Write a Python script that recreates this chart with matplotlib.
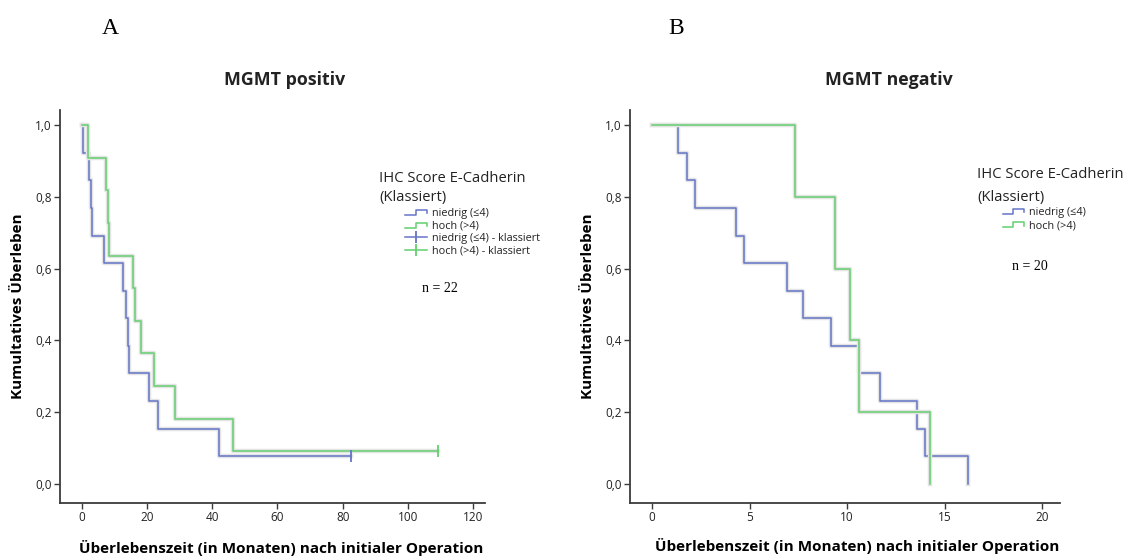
import matplotlib
matplotlib.use("Agg")
import matplotlib.pyplot as plt
import matplotlib.patheffects as pe
from matplotlib.lines import Line2D
from matplotlib.legend_handler import HandlerBase

# ---------------- data ----------------
# Panel A: MGMT positiv
a_low_t = [0, 0.3, 2.2, 2.7, 3.0, 6.8, 12.7, 13.4, 14.1, 14.4, 20.5, 23.4, 42.0, 82.5]
a_low_s = [1.0, 0.923, 0.846, 0.769, 0.692, 0.615, 0.538, 0.462, 0.385, 0.308, 0.231, 0.154, 0.077, 0.077]
a_low_cens_t = [82.5]
a_low_cens_s = [0.077]

a_high_t = [0, 1.9, 7.3, 8.1, 8.4, 15.6, 16.2, 18.1, 22.2, 28.7, 46.2, 109.2]
a_high_s = [1.0, 0.909, 0.818, 0.727, 0.636, 0.545, 0.455, 0.364, 0.273, 0.182, 0.091, 0.091]
a_high_cens_t = [109.2]
a_high_cens_s = [0.091]

# Panel B: MGMT negativ
b_low_t = [0, 1.31, 1.77, 2.2, 4.33, 4.72, 6.92, 7.74, 9.16, 10.59, 11.7, 13.59, 14.0, 16.2]
b_low_s = [1.0, 0.923, 0.846, 0.769, 0.692, 0.615, 0.538, 0.462, 0.385, 0.308, 0.231, 0.154, 0.077, 0.0]

b_high_t = [0, 7.31, 9.4, 10.13, 10.6, 14.26]
b_high_s = [1.0, 0.8, 0.6, 0.4, 0.2, 0.0]

a_xticks = [0, 20, 40, 60, 80, 100, 120]
b_xticks = [0, 5, 10, 15, 20]
yticks = [0.0, 0.2, 0.4, 0.6, 0.8, 1.0]
ytick_labels = ["0,0", "0,2", "0,4", "0,6", "0,8", "1,0"]

titles = ["MGMT positiv", "MGMT negativ"]
panel_letters = ["A", "B"]
n_texts = ["n = 22", "n = 20"]
xlabel = "Überlebenszeit (in Monaten) nach initialer Operation"
ylabel = "Kumultatives Überleben"
legend_title_1 = "IHC Score E-Cadherin"
legend_title_2 = "(Klassiert)"
labels_a = ["niedrig (≤4)", "hoch (>4)", "niedrig (≤4) - klassiert", "hoch (>4) - klassiert"]
labels_b = ["niedrig (≤4)", "hoch (>4)"]

# ---------------- style ----------------
BLUE = "#6474c6"
GREEN = "#62cf6e"
SPINE = "#3c3c3c"
TXT = "#222222"
SANS = ["Open Sans", "DejaVu Sans"]
SERIF = ["Liberation Serif", "DejaVu Serif"]
halo = [pe.Stroke(linewidth=3.2, foreground="#e4e4e4"), pe.Normal()]

W, H = 1128, 557
fig = plt.figure(figsize=(W / 100, H / 100), dpi=100)
fig.patch.set_facecolor("white")


def fx(px):
    return px / W


def fy(py):
    return 1 - py / H


class StepHandler(HandlerBase):
    def create_artists(self, legend, orig_handle, xdescent, ydescent,
                       width, height, fontsize, trans):
        x0 = -xdescent
        y0 = -ydescent + 0.1 * height
        y1 = -ydescent + 0.8 * height
        xs = [x0, x0 + 0.5 * width, x0 + 0.5 * width, x0 + width, x0 + width]
        ys = [y0, y0, y1, y1, y0 + 0.25 * height]
        ln = Line2D(xs, ys, color=orig_handle.get_color(), lw=1.1, transform=trans)
        return [ln]


def setup_axes(ax, xlim, xticks):
    ax.set_xlim(*xlim)
    ax.set_ylim(-0.053, 1.042)
    for s in ["top", "right"]:
        ax.spines[s].set_visible(False)
    for s in ["left", "bottom"]:
        ax.spines[s].set_color(SPINE)
        ax.spines[s].set_linewidth(1.3)
    ax.set_xticks(xticks)
    ax.set_xticklabels([str(t) for t in xticks], fontfamily=SANS, fontsize=8.5, color=TXT)
    ax.set_yticks(yticks)
    ax.set_yticklabels(ytick_labels, fontfamily=SANS, fontsize=8.5, color=TXT)
    ax.tick_params(axis="both", direction="out", length=4, width=1.0, color=SPINE, pad=2)


# ---------------- Panel A ----------------
axA = fig.add_axes([fx(60), fy(503), fx(485 - 60), (503 - 110) / H])
setup_axes(axA, (-6.75, 123.7), a_xticks)
axA.step(a_low_t, a_low_s, where="post", color=BLUE, lw=1.1, path_effects=halo, zorder=3)
axA.step(a_high_t, a_high_s, where="post", color=GREEN, lw=1.1, path_effects=halo, zorder=3)
axA.plot(a_low_cens_t, a_low_cens_s, ls="none", marker="|", ms=8, mew=1.3, color=BLUE, zorder=4)
axA.plot(a_high_cens_t, a_high_cens_s, ls="none", marker="|", ms=8, mew=1.3, color=GREEN, zorder=4)

# ---------------- Panel B ----------------
axB = fig.add_axes([fx(630), fy(503), fx(1060 - 630), (503 - 110) / H])
setup_axes(axB, (-1.125, 20.9), b_xticks)
axB.step(b_low_t, b_low_s, where="post", color=BLUE, lw=1.1, path_effects=halo, zorder=3)
axB.step(b_high_t, b_high_s, where="post", color=GREEN, lw=1.1, path_effects=halo, zorder=3)

# ---------------- texts ----------------
for ax, title, tx, letter, ntxt, lx, nx, ny, ylx in [
    (axA, titles[0], 285, panel_letters[0], n_texts[0], 110, 440, 288, 18),
    (axB, titles[1], 889, panel_letters[1], n_texts[1], 676, 1030, 266, 588),
]:
    bb = ax.get_position()
    fig.text(fx(tx), fy(80), title, ha="center", va="center", fontfamily=SANS,
             fontweight="bold", fontsize=12.8, color=TXT)
    fig.text(fx(lx), fy(28), letter, ha="center", va="center", fontfamily=SERIF,
             fontsize=17, color="black")
    fig.text(fx(nx), fy(ny), ntxt, ha="center", va="center", fontfamily=SERIF,
             fontsize=10, color="black")
    fig.text(fx(ylx), (bb.y0 + bb.y1) / 2, ylabel, rotation=90, ha="center", va="center",
             fontfamily=SANS, fontweight="bold", fontsize=11, color="black")

fig.text(fx(281), fy(548), xlabel, ha="center", va="center", fontfamily=SANS,
         fontweight="bold", fontsize=11, color="black")
fig.text(fx(857), fy(546), xlabel, ha="center", va="center", fontfamily=SANS,
         fontweight="bold", fontsize=11, color="black")

# legend titles
for lx, ly1, ly2 in [(379, 178, 198), (977, 175, 197)]:
    fig.text(fx(lx), fy(ly1), legend_title_1, ha="left", va="center",
             fontfamily=SANS, fontsize=10.6, color=TXT)
    fig.text(fx(lx), fy(ly2), legend_title_2, ha="left", va="center",
             fontfamily=SANS, fontsize=10.6, color=TXT)

# legends
hA = [Line2D([], [], color=BLUE), Line2D([], [], color=GREEN),
      Line2D([], [], color=BLUE, marker="|", ms=9, mew=1.3, lw=1.1),
      Line2D([], [], color=GREEN, marker="|", ms=9, mew=1.3, lw=1.1)]
legA = fig.legend(hA, labels_a, loc="upper left", bbox_to_anchor=(fx(405), fy(208)),
                  frameon=False, prop={"family": SANS, "size": 7.8},
                  handler_map={hA[0]: StepHandler(), hA[1]: StepHandler()},
                  handlelength=2.0, handletextpad=0.5, labelspacing=0.15,
                  borderpad=0, borderaxespad=0, numpoints=1)
for t in legA.get_texts():
    t.set_color(TXT)

hB = [Line2D([], [], color=BLUE), Line2D([], [], color=GREEN)]
legB = fig.legend(hB, labels_b, loc="upper left", bbox_to_anchor=(fx(1003), fy(207)),
                  frameon=False, prop={"family": SANS, "size": 7.8},
                  handler_map={hB[0]: StepHandler(), hB[1]: StepHandler()},
                  handlelength=1.9, handletextpad=0.5, labelspacing=0.2,
                  borderpad=0, borderaxespad=0)
for t in legB.get_texts():
    t.set_color(TXT)

fig.savefig("out.png", dpi=100)
